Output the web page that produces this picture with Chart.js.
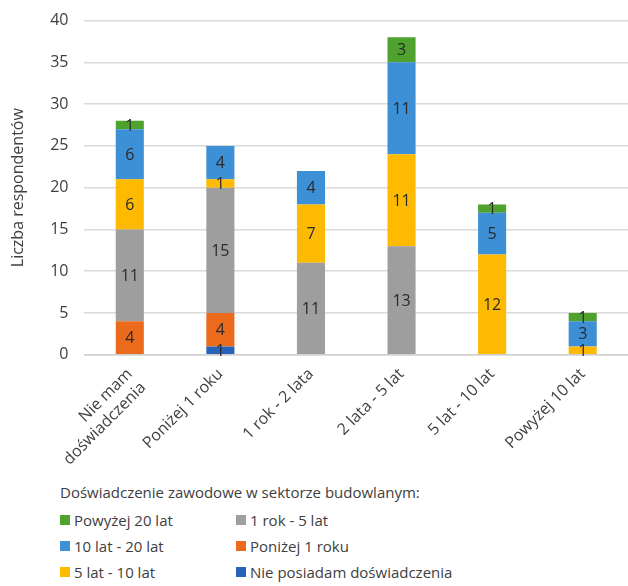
<!doctype html>
<html lang="pl">
<head>
	<meta charset="UTF-8">
	<title>Liczba respondentów</title>
	<script src="https://cdn.jsdelivr.net/npm/chart.js@4.4.0/dist/chart.umd.min.js"></script>
	<style>
		body { margin: 0; background: #fff; font-family: 'Open Sans', sans-serif; color: #404040; }
		#wrap { position: relative; width: 628px; height: 476px; margin-top: -5px; }
		#legend { position: absolute; left: 60px; top: 482px; font-size: 15px; color: #404040; }
		#legend .title { margin-bottom: 8px; }
		#legend .grid { display: grid; grid-template-columns: 176px 260px; row-gap: 6px; }
		#legend .item { display: flex; align-items: center; height: 20px; }
		#legend .box { width: 10px; height: 10px; margin-right: 4px; }
	</style>
</head>
<body>
	<div id="wrap"><canvas id="chart"></canvas></div>
	<div id="legend">
		<div class="title">Doświadczenie zawodowe w sektorze budowlanym:</div>
		<div class="grid" id="legendGrid"></div>
	</div>
	<script>
		const categories = [['Nie mam', 'doświadczenia'], 'Poniżej 1 roku', '1 rok - 2 lata', '2 lata - 5 lat', '5 lat - 10 lat', 'Powyżej 10 lat'];

		const nieposiadam = [0, 1, 0, 0, 0, 0];
		const ponizej1 = [4, 4, 0, 0, 0, 0];
		const rok1do5 = [11, 15, 11, 13, 0, 0];
		const lat5do10 = [6, 1, 7, 11, 12, 1];
		const lat10do20 = [6, 4, 4, 11, 5, 3];
		const powyzej20 = [1, 0, 0, 3, 1, 1];

		const yTicks = [0, 5, 10, 15, 20, 25, 30, 35, 40];

		const series = [
			{ label: 'Nie posiadam doświadczenia', data: nieposiadam, color: '#2862B9' },
			{ label: 'Poniżej 1 roku', data: ponizej1, color: '#EC6A1C' },
			{ label: '1 rok - 5 lat', data: rok1do5, color: '#9E9E9E' },
			{ label: '5 lat - 10 lat', data: lat5do10, color: '#FDBA00' },
			{ label: '10 lat - 20 lat', data: lat10do20, color: '#3D8FD6' },
			{ label: 'Powyżej 20 lat', data: powyzej20, color: '#4FA22E' },
		];

		// values written in the middle of each segment
		const segmentLabels = {
			id: 'segmentLabels',
			afterDatasetsDraw(chart) {
				const ctx = chart.ctx;
				ctx.save();
				ctx.font = '16px "Open Sans", sans-serif';
				ctx.fillStyle = '#2b2b2b';
				ctx.textAlign = 'center';
				ctx.textBaseline = 'middle';
				chart.data.datasets.forEach((ds, di) => {
					const meta = chart.getDatasetMeta(di);
					meta.data.forEach((bar, i) => {
						const v = ds.data[i];
						if (!v) return;
						ctx.fillText(String(v), bar.x, (bar.y + bar.base) / 2 + 1);
					});
				});
				ctx.restore();
			}
		};

		const chart = new Chart(document.getElementById('chart'), {
			type: 'bar',
			data: {
				labels: categories,
				datasets: series.map(s => ({
					label: s.label,
					data: s.data,
					backgroundColor: s.color,
					barPercentage: 0.31,
					categoryPercentage: 1,
				})),
			},
			options: {
				responsive: true,
				maintainAspectRatio: false,
				animation: false,
				layout: { padding: { top: 3, right: 0, left: 5 } },
				plugins: {
					legend: { display: false },
					tooltip: { enabled: false },
				},
				scales: {
					x: {
						stacked: true,
						grid: { display: false },
						border: { color: '#d0d0d0', width: 1.5 },
						ticks: {
							color: '#404040',
							font: { family: 'Open Sans', size: 16 },
							minRotation: 45,
							maxRotation: 45,
							padding: 2,
						},
					},
					y: {
						stacked: true,
						min: 0,
						max: 40,
						afterBuildTicks: (axis) => { axis.ticks = yTicks.map(v => ({ value: v })); },
						grid: { color: '#d9d9d9', lineWidth: 1.5, drawTicks: false },
						border: { display: false },
						ticks: {
							color: '#404040',
							font: { family: 'Open Sans', size: 16 },
							padding: 16,
						},
						title: {
							display: true,
							text: 'Liczba respondentów',
							color: '#404040',
							font: { family: 'Open Sans', size: 16 },
							padding: { bottom: 6 },
						},
					},
				},
			},
			plugins: [segmentLabels],
		});

		// legend in two columns, same order as the original
		const legendOrder = [5, 2, 4, 1, 3, 0];
		const grid = document.getElementById('legendGrid');
		legendOrder.forEach(idx => {
			const s = series[idx];
			const item = document.createElement('div');
			item.className = 'item';
			item.innerHTML = '<span class="box" style="background:' + s.color + '"></span>' + s.label;
			grid.appendChild(item);
		});
	</script>
</body>
</html>
